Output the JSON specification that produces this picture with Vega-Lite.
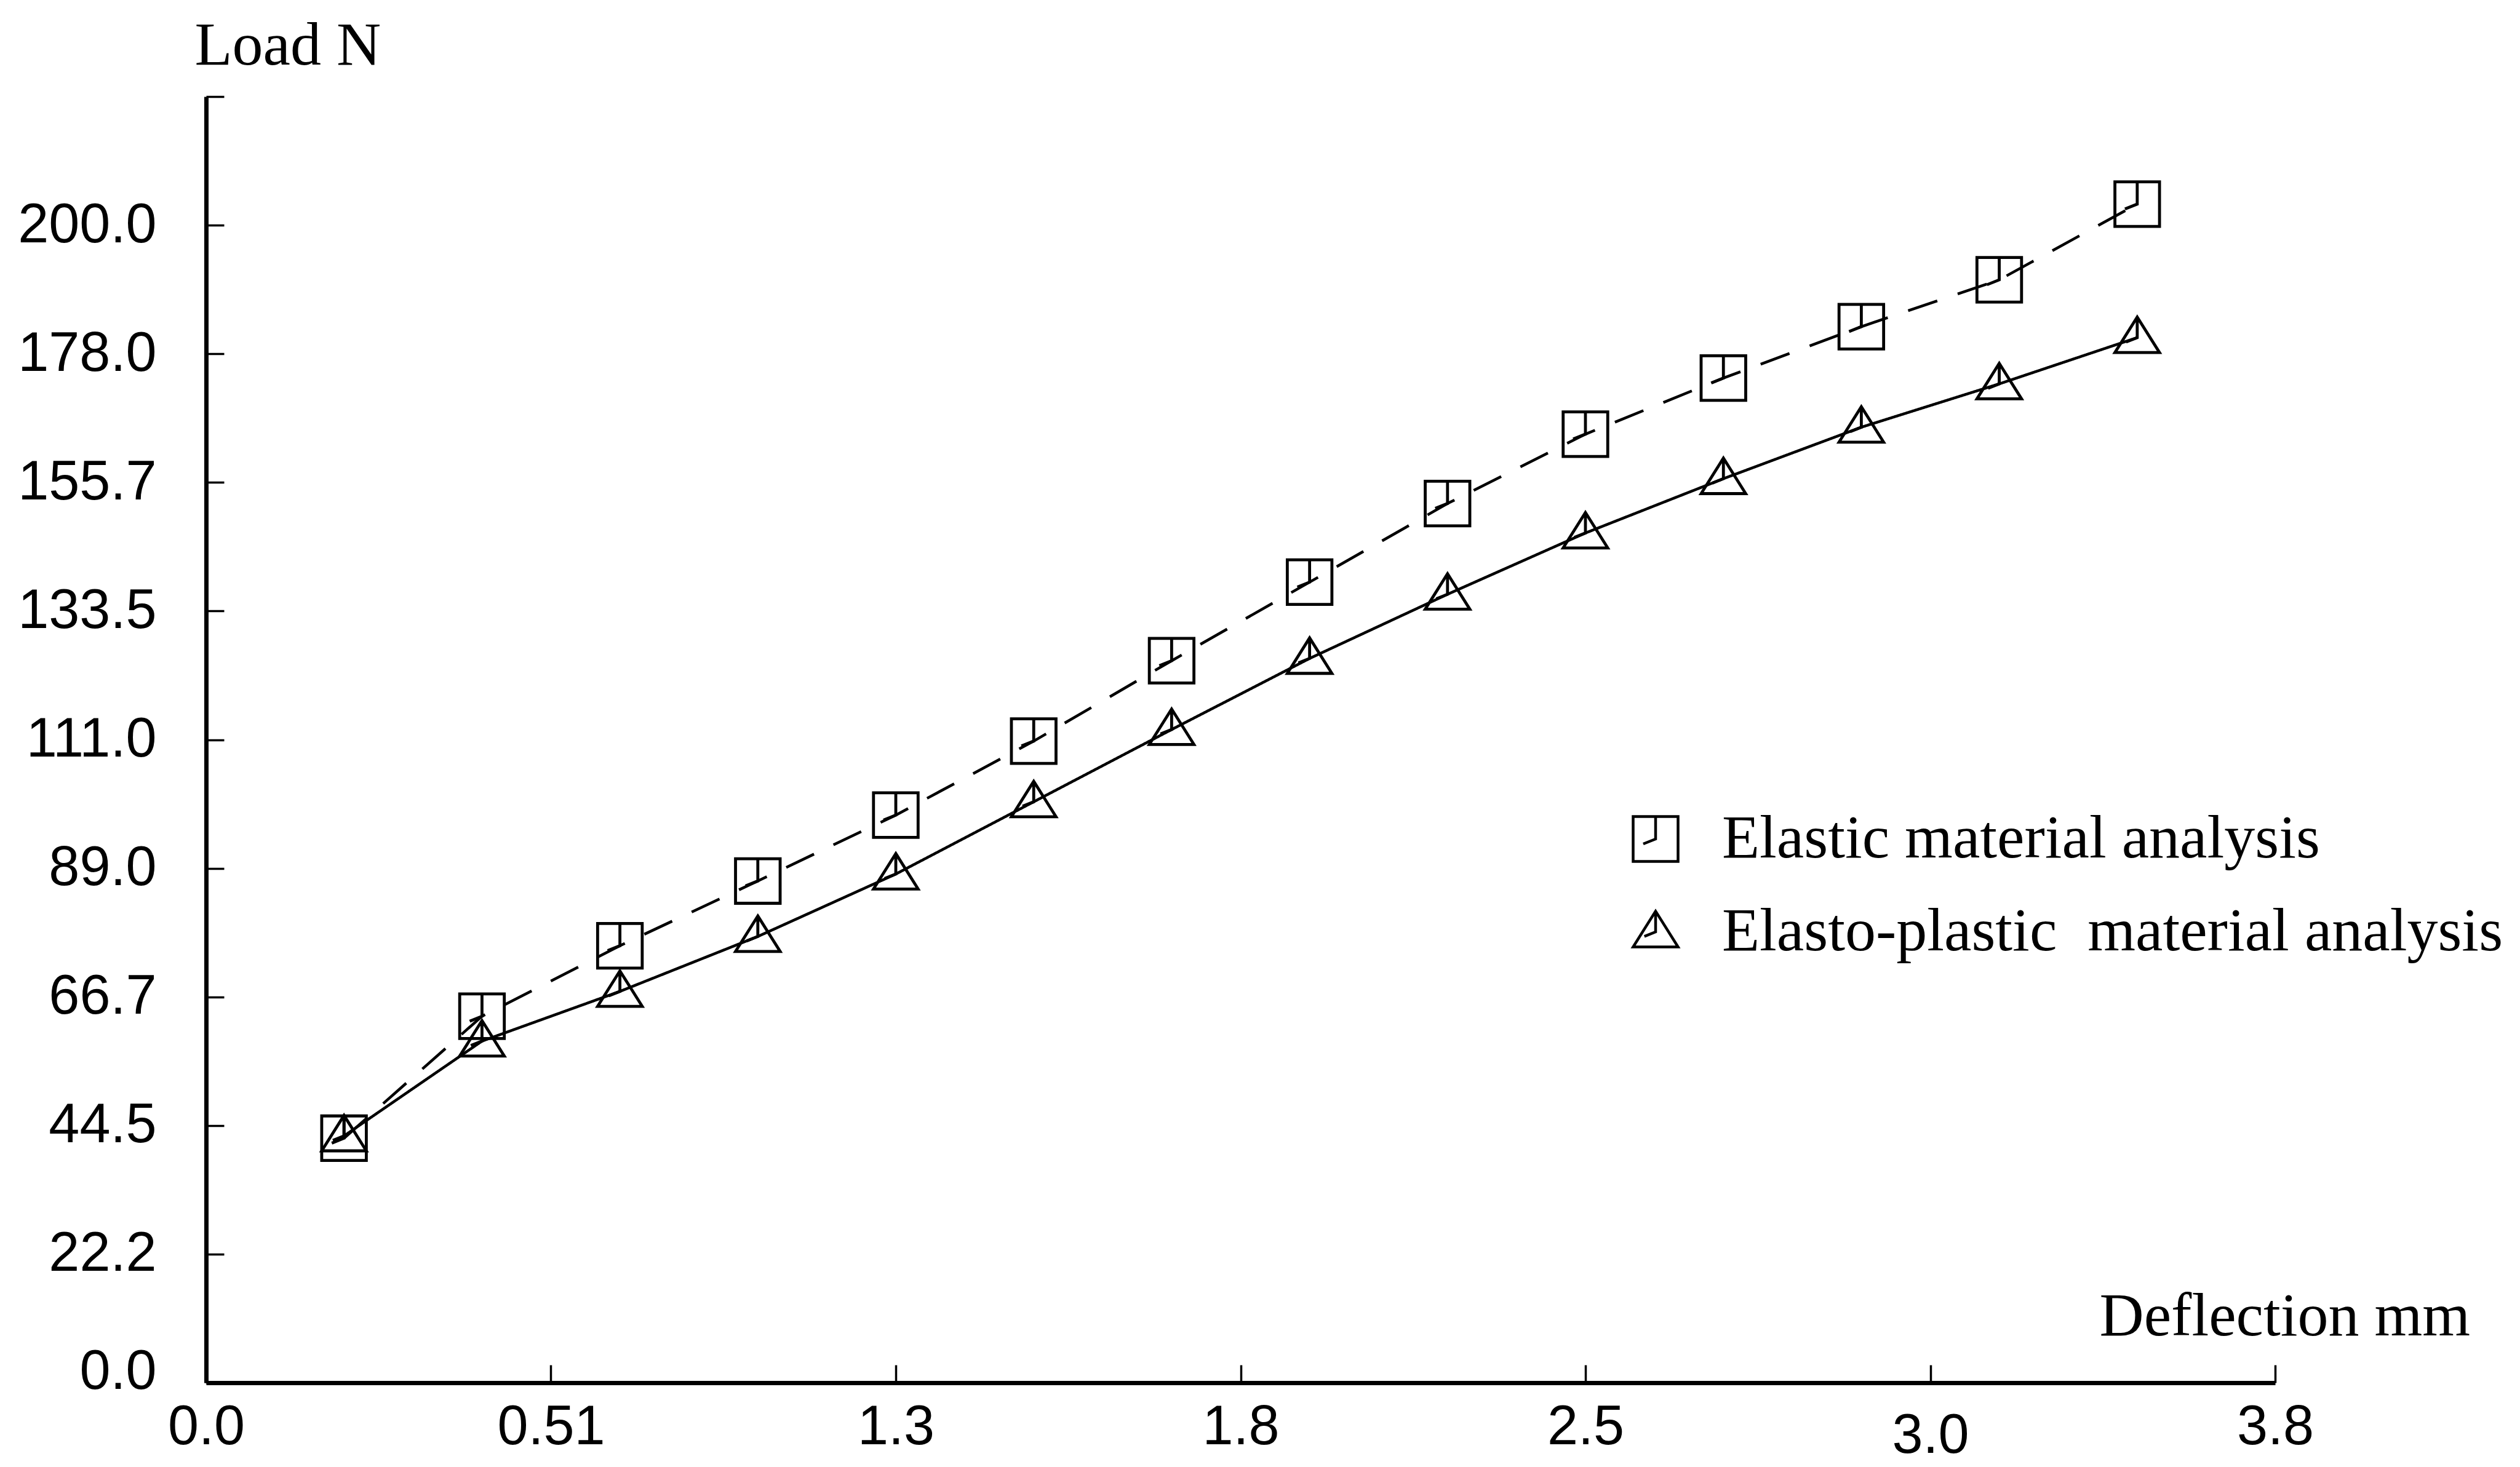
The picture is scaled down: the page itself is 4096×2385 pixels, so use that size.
{
  "$schema": "https://vega.github.io/schema/vega-lite/v6.json",
  "autosize": {"type": "none"},
  "width": 3363,
  "height": 2091,
  "padding": {"left": 335, "top": 157, "right": 398, "bottom": 137},
  "background": "white",
  "config": {
    "view": {"stroke": null},
    "axis": {
      "grid": false,
      "domainColor": "black",
      "domainWidth": 7,
      "tickColor": "black",
      "tickWidth": 3.5,
      "tickSize": -29,
      "labelColor": "black",
      "labelFont": "Liberation Sans",
      "labelFontSize": 90,
      "labelLimit": 0,
      "labelOverlap": false,
      "labelFlush": false,
      "labelBound": false,
      "titleColor": "black",
      "titleFont": "Liberation Serif",
      "titleFontSize": 100,
      "titleFontWeight": "normal"
    },
    "legend": {
      "labelFont": "Liberation Serif",
      "labelFontSize": 100,
      "labelColor": "black",
      "labelLimit": 0,
      "symbolStrokeColor": "black",
      "symbolFillColor": "transparent",
      "symbolStrokeWidth": 4.5,
      "symbolSize": 5329
    }
  },
  "data": {
    "values": [
      {"deflection": 0.2533, "load": 42.3, "series": "Elastic material analysis"},
      {"deflection": 0.5067, "load": 63.4, "series": "Elastic material analysis"},
      {"deflection": 0.76, "load": 75.6, "series": "Elastic material analysis"},
      {"deflection": 1.0133, "load": 86.8, "series": "Elastic material analysis"},
      {"deflection": 1.2667, "load": 98.2, "series": "Elastic material analysis"},
      {"deflection": 1.52, "load": 111.0, "series": "Elastic material analysis"},
      {"deflection": 1.7733, "load": 124.9, "series": "Elastic material analysis"},
      {"deflection": 2.0267, "load": 138.5, "series": "Elastic material analysis"},
      {"deflection": 2.28, "load": 152.1, "series": "Elastic material analysis"},
      {"deflection": 2.5333, "load": 164.1, "series": "Elastic material analysis"},
      {"deflection": 2.7867, "load": 173.8, "series": "Elastic material analysis"},
      {"deflection": 3.04, "load": 182.7, "series": "Elastic material analysis"},
      {"deflection": 3.2933, "load": 190.8, "series": "Elastic material analysis"},
      {"deflection": 3.5467, "load": 203.9, "series": "Elastic material analysis"},
      {"deflection": 0.2533, "load": 42.7, "series": "Elasto-plastic\u00a0 material analysis"},
      {"deflection": 0.5067, "load": 59.1, "series": "Elasto-plastic\u00a0 material analysis"},
      {"deflection": 0.76, "load": 67.7, "series": "Elasto-plastic\u00a0 material analysis"},
      {"deflection": 1.0133, "load": 77.2, "series": "Elasto-plastic\u00a0 material analysis"},
      {"deflection": 1.2667, "load": 88.0, "series": "Elasto-plastic\u00a0 material analysis"},
      {"deflection": 1.52, "load": 100.5, "series": "Elasto-plastic\u00a0 material analysis"},
      {"deflection": 1.7733, "load": 113.0, "series": "Elasto-plastic\u00a0 material analysis"},
      {"deflection": 2.0267, "load": 125.3, "series": "Elasto-plastic\u00a0 material analysis"},
      {"deflection": 2.28, "load": 136.4, "series": "Elasto-plastic\u00a0 material analysis"},
      {"deflection": 2.5333, "load": 147.0, "series": "Elasto-plastic\u00a0 material analysis"},
      {"deflection": 2.7867, "load": 156.4, "series": "Elasto-plastic\u00a0 material analysis"},
      {"deflection": 3.04, "load": 165.3, "series": "Elasto-plastic\u00a0 material analysis"},
      {"deflection": 3.2933, "load": 172.8, "series": "Elasto-plastic\u00a0 material analysis"},
      {"deflection": 3.5467, "load": 180.8, "series": "Elasto-plastic\u00a0 material analysis"}
    ]
  },
  "encoding": {
    "x": {
      "field": "deflection",
      "type": "quantitative",
      "scale": {"domain": [0, 3.8], "nice": false, "zero": false},
      "axis": {
        "title": "Deflection mm",
        "titleAngle": 0,
        "titleAlign": "left",
        "titleBaseline": "alphabetic",
        "titleX": 3077,
        "titleY": -78,
        "values": [0, 0.633333, 1.266667, 1.9, 2.533333, 3.166667, 3.8],
        "labelExpr": "['0.0','0.51','1.3','1.8','2.5','3.0','3.8'][round(datum.value / 0.633333)]",
        "labelBaseline": "alphabetic",
        "labelPadding": {"condition": {"test": "abs(datum.value - 3.166667) < 0.01", "value": 142}, "value": 128}
      }
    },
    "y": {
      "field": "load",
      "type": "quantitative",
      "scale": {"domain": [0, 222.5], "nice": false, "zero": true},
      "axis": {
        "title": "Load N",
        "titleAngle": 0,
        "titleAlign": "left",
        "titleBaseline": "alphabetic",
        "titleX": -19,
        "titleY": -53,
        "values": [0, 22.25, 44.5, 66.75, 89, 111.25, 133.5, 155.75, 178, 200.25, 222.5],
        "labelExpr": "['0.0','22.2','44.5','66.7','89.0','111.0','133.5','155.7','178.0','200.0',''][round(datum.value / 22.25)]",
        "labelBaseline": "middle",
        "labelPadding": 110,
        "labelOffset": {"condition": {"test": "datum.value == 0", "value": -18}, "value": 0}
      }
    }
  },
  "layer": [
    {
      "mark": {"type": "line", "color": "black", "strokeWidth": 4.5},
      "encoding": {
        "detail": {"field": "series"},
        "strokeDash": {
          "field": "series",
          "type": "nominal",
          "scale": {"range": [[50, 35], [1, 0]]},
          "legend": null
        }
      }
    },
    {
      "mark": {"type": "point", "filled": false, "color": "black", "strokeWidth": 4.8, "size": 5256, "opacity": 1},
      "encoding": {
        "shape": {
          "field": "series",
          "type": "nominal",
          "scale": {
            "domain": ["Elastic material analysis", "Elasto-plastic\u00a0 material analysis"],
            "range": [
              "M-1,-1H1V1H-1Z M0,-1V0L-0.55,0.22",
              "M0,-0.92L1,0.67H-1Z M0,-0.92V0L-0.5,0.2"
            ]
          },
          "legend": {
            "title": null,
            "orient": "none",
            "legendX": 2306,
            "legendY": 1157,
            "padding": 0,
            "labelOffset": 58,
            "rowPadding": 51,
            "labelBaseline": "middle"
          }
        }
      }
    }
  ]
}
